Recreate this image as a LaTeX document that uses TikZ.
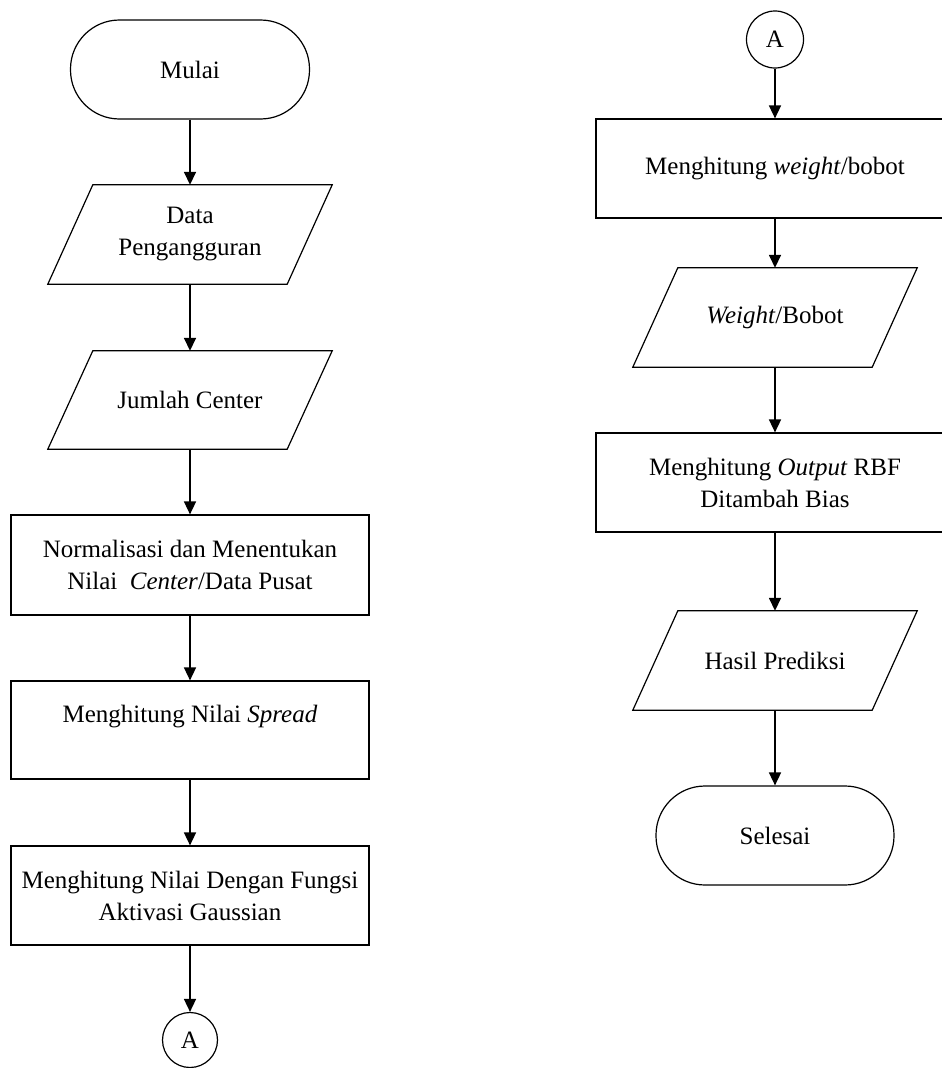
\documentclass[tikz,border=0pt]{standalone}
\usepackage{fontspec}
\setmainfont{Liberation Serif}
\usetikzlibrary{arrows.meta,calc}
\begin{document}
\begin{tikzpicture}[x=1pt,y=-1pt,
  font=\fontsize{25}{32}\selectfont,
  term/.style={draw,line width=1.2pt,rounded corners=49pt,minimum width=239pt,minimum height=99pt,inner sep=0pt,align=center},
  proc/.style={draw,line width=1.2pt,minimum width=358pt,minimum height=99pt,inner sep=0pt,align=center},
  io/.style={minimum width=284pt,minimum height=99pt,inner sep=0pt,align=center},
  iolines/.style={line width=1.2pt,line join=miter},
  conn/.style={draw,circle,line width=1.2pt,minimum size=55pt,inner sep=0pt},
  flow/.style={line width=1.6pt,-{Triangle[length=13pt,width=12pt]}}]
\useasboundingbox (0,0) rectangle (942,1068);
\clip (0,0) rectangle (942,1068);
\fill[white] (0,0) rectangle (942,1068);
\newcommand\drawio[1]{\draw[iolines] ($(#1.north west)+(45,0)$) -- (#1.north east) -- ($(#1.south east)+(-45,0)$) -- (#1.south west) -- cycle;}
% left column
\node[term] (mulai) at (190,69.5) {Mulai};
\node[io] (data) at (190,234.5) {Data\\Pengangguran};
\drawio{data}
\node[io,minimum height=98pt] (jumlah) at (190,400) {Jumlah Center};
\drawio{jumlah}
\node[proc,minimum height=100pt] (norm) at (190,565) {Normalisasi dan Menentukan\\Nilai~ \textit{Center}/Data Pusat};
\node[proc,minimum height=98pt] (spread) at (190,730) {Menghitung Nilai \textit{Spread}\\\mbox{}};
\node[proc] (gauss) at (190,895.5) {Menghitung Nilai Dengan Fungsi\\Aktivasi Gaussian};
\node[conn] (aleft) at (190,1040) {A};
\draw[flow] (mulai) -- (data);
\draw[flow] (data) -- (jumlah);
\draw[flow] (jumlah) -- (norm);
\draw[flow] (norm) -- (spread);
\draw[flow] (spread) -- (gauss);
\draw[flow] (gauss) -- (aleft);
% right column
\node[conn,minimum size=57pt] (aright) at (775,39.5) {A};
\node[proc] (wbox) at (775,168.5) {Menghitung \textit{weight}/bobot};
\node[io] (wio) at (775,317.5) {\textit{Weight}/Bobot};
\drawio{wio}
\node[proc] (obox) at (775,482.5) {Menghitung \textit{Output} RBF\\Ditambah Bias};
\node[io] (hasil) at (775,660.5) {Hasil Prediksi};
\drawio{hasil}
\node[term,minimum width=238pt] (selesai) at (775,835.5) {Selesai};
\draw[flow] (aright) -- (wbox);
\draw[flow] (wbox) -- (wio);
\draw[flow] (wio) -- (obox);
\draw[flow] (obox) -- (hasil);
\draw[flow] (hasil) -- (selesai);
\end{tikzpicture}
\end{document}
